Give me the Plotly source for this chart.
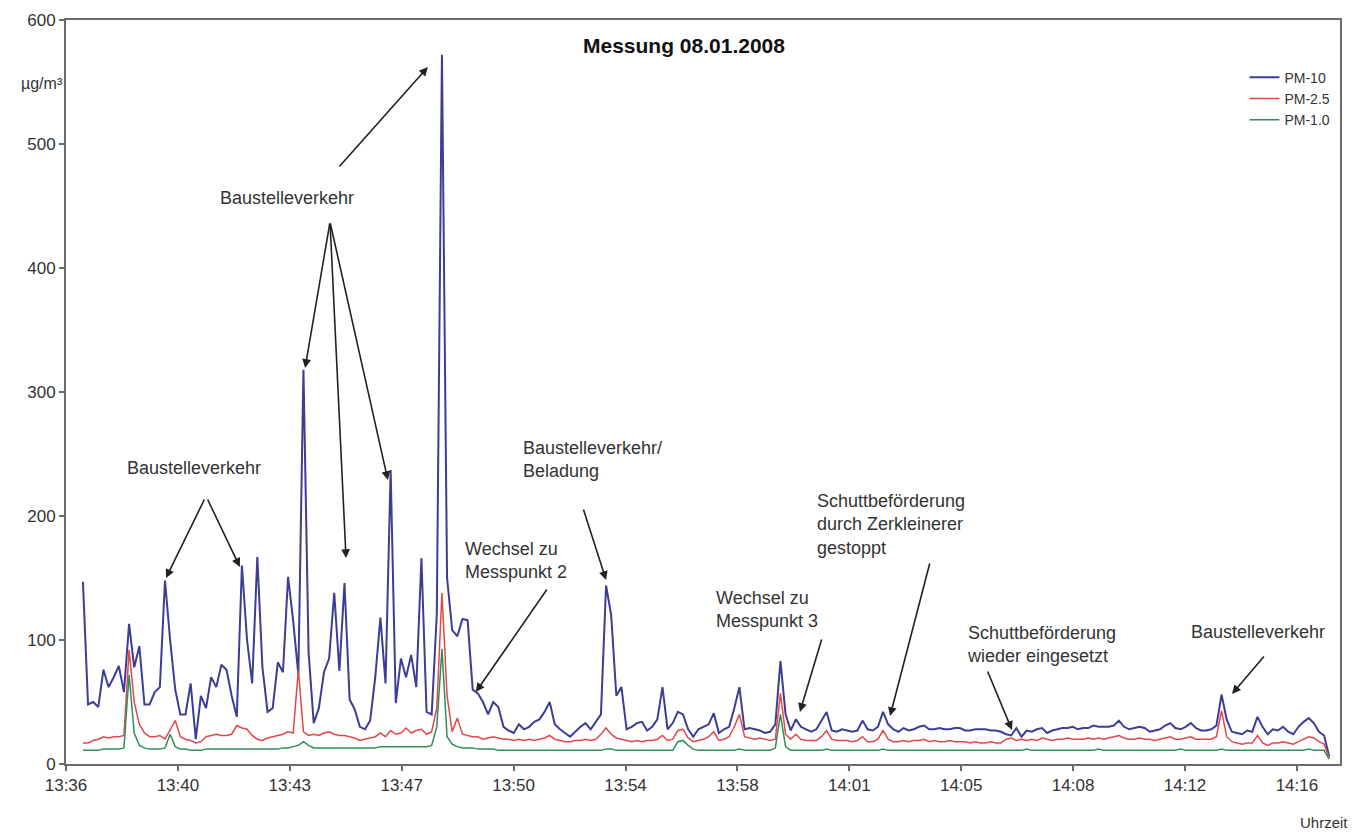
import numpy as np
import plotly.graph_objects as go

pm10 = [147, 48, 50, 46, 76, 62, 70, 79, 58, 113, 78, 95,
        48, 48, 58, 62, 148, 100, 60, 40, 40, 65, 20, 55,
        45, 70, 62, 80, 76, 55, 38, 160, 100, 65, 167, 78,
        42, 45, 82, 74, 151, 115, 72, 318, 90, 33, 45, 74,
        85, 138, 75, 146, 52, 44, 30, 28, 35, 70, 118, 65,
        237, 49, 85, 70, 88, 62, 166, 42, 40, 121, 572, 150,
        108, 103, 117, 116, 60, 57, 50, 40, 50, 46, 30, 27,
        25, 32, 28, 30, 34, 36, 42, 50, 32, 28, 25, 22,
        26, 30, 33, 28, 34, 40, 144, 120, 55, 62, 28, 30,
        33, 34, 27, 30, 36, 62, 28, 33, 42, 40, 28, 22,
        28, 30, 32, 41, 25, 28, 30, 45, 62, 28, 29, 28,
        27, 25, 26, 32, 83, 40, 27, 36, 30, 28, 26, 28,
        35, 42, 27, 26, 28, 27, 26, 27, 35, 28, 27, 30,
        42, 32, 28, 26, 29, 27, 28, 30, 31, 28, 28, 29,
        28, 28, 29, 29, 27, 27, 28, 28, 28, 27, 27, 26,
        24, 23, 29, 22, 27, 26, 28, 29, 25, 27, 28, 29,
        29, 30, 28, 29, 29, 31, 30, 30, 30, 31, 35, 30,
        28, 29, 30, 29, 26, 27, 28, 31, 33, 29, 28, 30,
        33, 29, 27, 27, 28, 31, 56, 36, 26, 25, 24, 27,
        26, 38, 30, 24, 28, 27, 30, 26, 24, 30, 34, 37,
        33, 26, 23, 6]

pm25 = [17, 17, 19, 20, 22, 21, 22, 22, 23, 92, 50, 32,
        25, 22, 22, 23, 20, 28, 35, 22, 20, 19, 17, 18,
        22, 23, 24, 23, 23, 24, 31, 29, 28, 23, 20, 19,
        21, 22, 23, 24, 26, 25, 76, 26, 23, 24, 23, 25,
        26, 24, 23, 23, 22, 21, 19, 20, 21, 22, 25, 22,
        27, 24, 25, 29, 25, 27, 28, 24, 26, 45, 138, 55,
        26, 37, 24, 23, 22, 22, 20, 21, 22, 21, 20, 20,
        19, 20, 19, 20, 19, 20, 21, 23, 20, 19, 18, 18,
        19, 19, 20, 19, 20, 24, 29, 24, 21, 20, 19, 18,
        19, 18, 19, 19, 20, 23, 19, 20, 27, 28, 21, 18,
        19, 20, 22, 26, 19, 20, 22, 30, 40, 22, 21, 20,
        21, 20, 19, 20, 57, 24, 20, 24, 20, 19, 19, 19,
        22, 27, 20, 19, 19, 19, 18, 19, 22, 18, 18, 20,
        27, 20, 18, 18, 19, 18, 19, 19, 20, 18, 19, 18,
        18, 19, 18, 18, 18, 17, 18, 17, 17, 18, 17, 17,
        20, 21, 19, 20, 19, 20, 19, 21, 20, 19, 20, 20,
        21, 20, 20, 20, 21, 20, 21, 20, 21, 22, 23, 21,
        20, 20, 21, 20, 20, 19, 20, 21, 22, 20, 20, 21,
        22, 20, 20, 20, 20, 22, 43, 22, 18, 17, 16, 17,
        17, 23, 17, 15, 17, 17, 18, 17, 16, 18, 20, 22,
        21, 18, 16, 5]

pm1 = [11, 11, 11, 11, 12, 12, 12, 12, 13, 72, 25, 15,
       13, 12, 12, 12, 13, 24, 14, 12, 12, 11, 11, 11,
       12, 12, 12, 12, 12, 12, 12, 12, 12, 12, 12, 12,
       12, 12, 12, 13, 13, 14, 15, 18, 15, 13, 13, 13,
       13, 13, 13, 13, 13, 13, 13, 13, 13, 13, 14, 14,
       14, 14, 14, 14, 14, 14, 14, 14, 15, 30, 93, 22,
       16, 14, 13, 13, 13, 12, 12, 12, 12, 11, 11, 11,
       11, 11, 11, 11, 11, 11, 11, 11, 11, 11, 11, 11,
       11, 11, 11, 11, 11, 11, 12, 12, 11, 11, 11, 11,
       11, 11, 11, 11, 11, 11, 11, 11, 18, 19, 15, 12,
       11, 11, 11, 11, 11, 11, 11, 11, 12, 11, 11, 11,
       11, 11, 11, 13, 40, 14, 11, 11, 11, 11, 11, 11,
       11, 12, 11, 11, 11, 11, 11, 11, 11, 11, 11, 11,
       12, 11, 11, 11, 11, 11, 11, 11, 11, 11, 11, 11,
       11, 11, 11, 11, 11, 11, 11, 11, 11, 11, 11, 11,
       11, 11, 11, 11, 12, 11, 11, 11, 11, 11, 11, 11,
       11, 11, 11, 11, 11, 11, 12, 11, 11, 11, 11, 11,
       11, 11, 11, 11, 11, 11, 11, 11, 11, 11, 12, 11,
       11, 11, 11, 11, 11, 11, 12, 11, 11, 11, 11, 11,
       11, 11, 11, 11, 11, 11, 11, 11, 11, 11, 11, 12,
       11, 11, 11, 4]

tick_labels = ['13:36', '13:40', '13:43', '13:47', '13:50', '13:54',
               '13:58', '14:01', '14:05', '14:08', '14:12', '14:16']

# Minuten nach 13:36
t = (33 + 10 * np.arange(len(pm10))) / 60.0
tick_step = 40 / 11
tickvals = [i * tick_step for i in range(len(tick_labels))]

FONT = 'Arial, Liberation Sans, sans-serif'
AX = '#6a6a6a'

fig = go.Figure()
fig.add_trace(go.Scatter(x=t, y=pm10, mode='lines', name='PM-10',
                         line=dict(color='#3d3d95', width=2)))
fig.add_trace(go.Scatter(x=t, y=pm25, mode='lines', name='PM-2.5',
                         line=dict(color='#e2474c', width=1.5)))
fig.add_trace(go.Scatter(x=t, y=pm1, mode='lines', name='PM-1.0',
                         line=dict(color='#2f8f5b', width=1.5)))

# Beschriftungen (Position in Minuten / µg/m³)
texts = [
    (1.92, 238.7, 'Baustelleverkehr'),
    (4.94, 456.5, 'Baustelleverkehr'),
    (12.90, 164.5, 'Wechsel zu<br>Messpunkt 2'),
    (14.79, 245.2, 'Baustelleverkehr/<br>Beladung'),
    (21.06, 124.2, 'Wechsel zu<br>Messpunkt 3'),
    (24.34, 193.5, 'Schuttbeförderung<br>durch Zerkleinerer<br>gestoppt'),
    (29.22, 96.0, 'Schuttbeförderung<br>wieder eingesetzt'),
    (36.50, 106.5, 'Baustelleverkehr'),
]
# Pfeile: (Ende x, Ende y, Spitze x, Spitze y)
arrows = [
    (4.52, 214.5, 3.25, 150.0),
    (4.58, 214.5, 5.65, 158.9),
    (8.58, 437.1, 7.77, 319.4),
    (8.58, 437.1, 9.10, 166.1),
    (8.58, 437.1, 10.46, 229.0),
    (8.84, 480.6, 11.76, 562.1),
    (15.66, 141.9, 13.32, 58.1),
    (16.80, 206.5, 17.55, 148.4),
    (24.57, 101.6, 23.85, 41.9),
    (28.08, 162.9, 26.78, 38.7),
    (29.93, 75.8, 30.74, 27.4),
    (38.97, 87.9, 37.89, 56.5),
]

annotations = []
for x, y, s in texts:
    annotations.append(dict(x=x, y=y, xref='x', yref='y', text=s, showarrow=False,
                            xanchor='left', yanchor='middle', align='left',
                            font=dict(family=FONT, size=18, color='#333333')))
for ax_, ay_, x, y in arrows:
    annotations.append(dict(x=x, y=y, ax=ax_, ay=ay_, xref='x', yref='y',
                            axref='x', ayref='y', text='', showarrow=True,
                            arrowhead=2, arrowsize=1.1, arrowwidth=1.6,
                            arrowcolor='#222222', standoff=0))

annotations += [
    dict(x=0.485, y=0.966, xref='paper', yref='paper', text='<b>Messung 08.01.2008</b>',
         showarrow=False, xanchor='center', yanchor='middle',
         font=dict(family=FONT, size=21, color='#111111')),
    dict(x=-0.001, y=0.915, xref='paper', yref='paper', text='µg/m³', showarrow=False,
         xanchor='right', yanchor='middle', font=dict(family=FONT, size=16, color='#333333')),
    dict(x=1.008, y=-0.078, xref='paper', yref='paper', text='Uhrzeit', showarrow=False,
         xanchor='right', yanchor='middle', font=dict(family=FONT, size=15, color='#333333')),
]

fig.update_layout(
    width=1363, height=835,
    margin=dict(l=66, r=23, t=20, b=71),
    paper_bgcolor='white', plot_bgcolor='white',
    showlegend=True,
    legend=dict(x=0.925, y=0.944, xanchor='left', yanchor='top',
                bgcolor='rgba(0,0,0,0)', font=dict(family=FONT, size=14, color='#333333'),
                tracegroupgap=0),
    annotations=annotations,
    xaxis=dict(range=[0, 41.4], tickvals=tickvals, ticktext=tick_labels,
               showline=True, linecolor=AX, linewidth=2, mirror=True,
               ticks='outside', ticklen=5, tickcolor=AX, tickwidth=1.5,
               showgrid=False, zeroline=False,
               tickfont=dict(family=FONT, size=17, color='#333333')),
    yaxis=dict(range=[0, 600], dtick=100,
               showline=True, linecolor=AX, linewidth=2, mirror=True,
               ticks='outside', ticklen=5, tickcolor=AX, tickwidth=1.5,
               showgrid=False, zeroline=False,
               tickfont=dict(family=FONT, size=17, color='#333333')),
)

# Seitenrand des Browsers entfernen, damit die Grafik bei (0, 0) beginnt
fig.write_html("out.html", config={'displayModeBar': False},
               post_script="document.body.style.margin='0';")
